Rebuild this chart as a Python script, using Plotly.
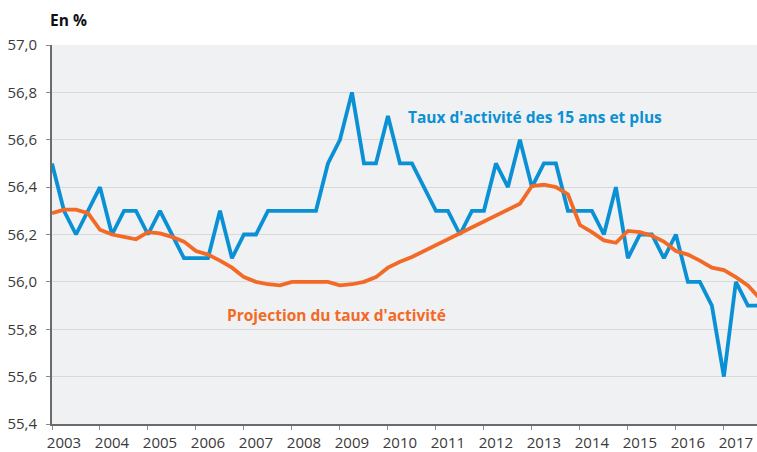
import plotly.graph_objects as go

# Quarterly periods 2003 T1 .. 2017 T4
years = list(range(2003, 2018))
quarters = [f"{y}-T{q}" for y in years for q in range(1, 5)]

# Taux d'activité des 15 ans et plus (en %)
taux_activite = [
    56.5, 56.3, 56.2, 56.3,   # 2003
    56.4, 56.2, 56.3, 56.3,   # 2004
    56.2, 56.3, 56.2, 56.1,   # 2005
    56.1, 56.1, 56.3, 56.1,   # 2006
    56.2, 56.2, 56.3, 56.3,   # 2007
    56.3, 56.3, 56.3, 56.5,   # 2008
    56.6, 56.8, 56.5, 56.5,   # 2009
    56.7, 56.5, 56.5, 56.4,   # 2010
    56.3, 56.3, 56.2, 56.3,   # 2011
    56.3, 56.5, 56.4, 56.6,   # 2012
    56.4, 56.5, 56.5, 56.3,   # 2013
    56.3, 56.3, 56.2, 56.4,   # 2014
    56.1, 56.2, 56.2, 56.1,   # 2015
    56.2, 56.0, 56.0, 55.9,   # 2016
    55.6, 56.0, 55.9, 55.9,   # 2017
]

# Projection du taux d'activité (en %)
projection = [
    56.29, 56.305, 56.305, 56.29,
    56.22, 56.20, 56.19, 56.18,
    56.21, 56.205, 56.19, 56.17,
    56.13, 56.115, 56.09, 56.06,
    56.02, 56.00, 55.99, 55.985,
    56.00, 56.00, 56.00, 56.00,
    55.985, 55.99, 56.00, 56.02,
    56.06, 56.085, 56.105, 56.13,
    56.155, 56.18, 56.205, 56.23,
    56.255, 56.28, 56.305, 56.33,
    56.405, 56.41, 56.40, 56.37,
    56.24, 56.21, 56.175, 56.165,
    56.215, 56.21, 56.195, 56.17,
    56.13, 56.115, 56.09, 56.06,
    56.05, 56.02, 55.985, 55.93,
]

y_ticks = [55.4, 55.6, 55.8, 56.0, 56.2, 56.4, 56.6, 56.8, 57.0]

# Position of each quarter on a continuous year axis
x = [int(p[:4]) + (int(p[-1]) - 1) / 4 for p in quarters]

BLUE = "#0a90d4"
ORANGE = "#f26a25"
FONT = "Open Sans"

fig = go.Figure()
fig.add_trace(go.Scatter(
    x=x, y=taux_activite, mode="lines",
    line=dict(color=BLUE, width=3.8), name="Taux d'activité des 15 ans et plus",
))
fig.add_trace(go.Scatter(
    x=x, y=projection, mode="lines",
    line=dict(color=ORANGE, width=3.8), name="Projection du taux d'activité",
))

fig.update_layout(
    width=757, height=452,
    margin=dict(l=52, r=0, t=45, b=28),
    paper_bgcolor="white",
    plot_bgcolor="#f0f1f3",
    showlegend=False,
    separators=", ",
    font=dict(family=FONT, size=15, color="#3a3a3a"),
)

fig.update_xaxes(
    range=[2003, 2017.69],
    tickvals=years, ticktext=[str(y) for y in years],
    ticks="outside", ticklen=4, tickwidth=1, tickcolor="#8a8a8a",
    ticklabelshift=12, ticklabelstandoff=0,
    showline=True, linecolor="#6b6b6b", linewidth=2,
    showgrid=False, zeroline=False, automargin=False,
    tickfont=dict(family=FONT, size=15, color="#3a3a3a"),
)
fig.update_yaxes(
    range=[55.4, 57.0],
    tickvals=y_ticks, tickformat=".1f",
    ticks="outside", ticklen=4, tickwidth=1, tickcolor="#8a8a8a",
    ticklabelstandoff=6,
    showline=True, linecolor="#6b6b6b", linewidth=2,
    showgrid=True, gridcolor="#d8d9db", gridwidth=1, zeroline=False,
    automargin=False,
    tickfont=dict(family=FONT, size=15, color="#3a3a3a"),
)

fig.add_annotation(
    x=2010.38, y=56.696, xref="x", yref="y",
    text="<b>Taux d'activité des 15 ans et plus</b>",
    showarrow=False, xanchor="left", yanchor="middle",
    font=dict(family=FONT, size=15.5, color=BLUE),
)
fig.add_annotation(
    x=2006.6, y=55.861, xref="x", yref="y",
    text="<b>Projection du taux d'activité</b>",
    showarrow=False, xanchor="left", yanchor="middle",
    font=dict(family=FONT, size=15.5, color=ORANGE),
)
fig.add_annotation(
    x=-0.006, y=1.067, xref="paper", yref="paper",
    text="<b>En %</b>",
    showarrow=False, xanchor="left", yanchor="middle",
    font=dict(family=FONT, size=15.5, color="#111111"),
)

fig.write_html("out.html")
